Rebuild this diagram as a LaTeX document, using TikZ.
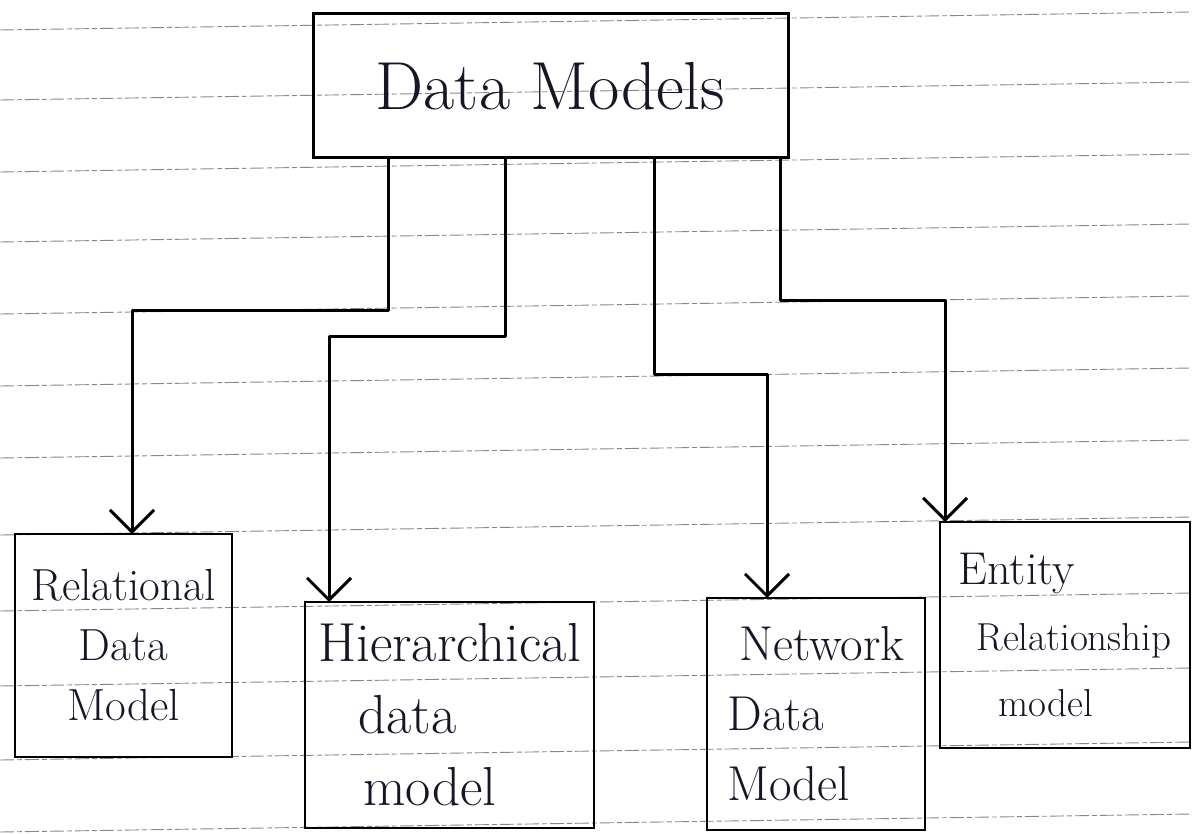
\documentclass[tikz,border=0pt]{standalone}
\usetikzlibrary{arrows.meta}
\definecolor{ink}{RGB}{22,22,40}
\definecolor{ruling}{RGB}{130,136,140}
\tikzset{
  ruleline/.style={ruling, line width=0.9pt, dash pattern=on 14pt off 3pt on 5pt off 3pt},
  topbox/.style={draw=black, line width=3pt, rectangle, inner sep=0pt, outer sep=0pt,
                 text=ink},
  modelbox/.style={draw=black, line width=2.4pt, rectangle, inner sep=0pt, outer sep=0pt,
                   text=ink},
  conn/.style={draw=black, line width=3pt, line join=round,
               -{Straight Barb[length=22pt,width=44pt]}},
}
\begin{document}
\begin{tikzpicture}[x=1pt,y=-1pt]
\useasboundingbox (0,0) rectangle (1192,834);
% ruled paper lines
\foreach \yy in {30,100,172,242,314,386,458,535,611,686,760,832}{
  \draw[ruleline] (0,\yy) -- (1192,\yy-18);
}
% top box
\node[topbox, minimum width=475pt, minimum height=144pt, font={\fontsize{68}{74}\selectfont}]
  (dm) at (550.5,86) {Data Models};
% bottom boxes
\node[modelbox, minimum width=217pt, minimum height=223pt, align=center,
      font={\fontsize{45}{60}\selectfont}]
  (rel) at (123.5,645.5) {Relational\\Data\\Model};
\node[modelbox, minimum width=289pt, minimum height=226pt, align=left,
      font={\fontsize{55}{72}\selectfont}]
  (hier) at (449.5,715) {Hierarchical\\\hspace*{40pt}data\\\hspace*{45pt}model};
\node[modelbox, minimum width=218pt, minimum height=232pt, align=left,
      font={\fontsize{49}{70}\selectfont}]
  (net) at (816,714) {\hspace*{12pt}Network\\Data\\Model};
\node[modelbox, minimum width=250pt, minimum height=226pt, align=left,
      font={\fontsize{39}{66}\selectfont}]
  (ent) at (1065,635) {{\fontsize{46}{66}\selectfont Entity}\\\hspace*{18pt}Relationship\\\hspace*{40pt}model};
% bend points
\coordinate (b1) at (132,311);
\coordinate (b2) at (329,337);
\coordinate (b3) at (767,375);
\coordinate (b4) at (945,301);
% connectors
\draw[conn] (dm.south -| 388,0) |- (b1) -- (b1 |- rel.north);
\draw[conn] (dm.south -| 505,0) |- (b2) -- (b2 |- hier.north);
\draw[conn] (dm.south -| 654,0) |- (b3) -- (b3 |- net.north);
\draw[conn] (dm.south -| 780,0) |- (b4) -- (b4 |- ent.north);
\end{tikzpicture}
\end{document}
